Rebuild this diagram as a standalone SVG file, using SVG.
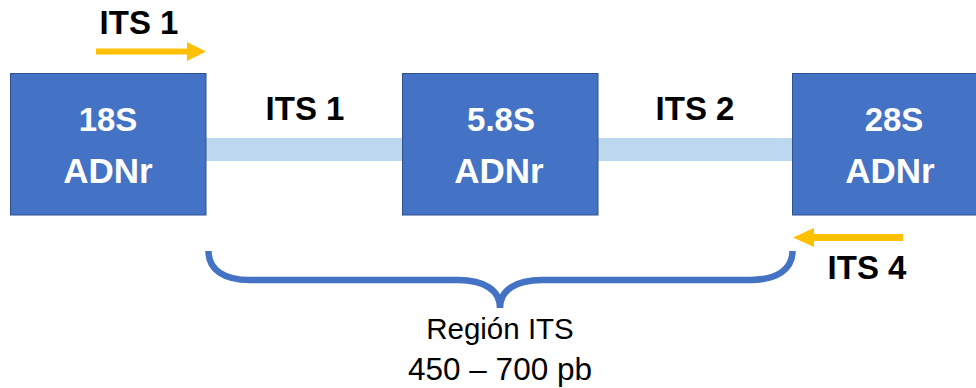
<svg xmlns="http://www.w3.org/2000/svg" width="976" height="388" viewBox="0 0 976 388">
  <style>
    .box { fill: #4472C4; stroke: #2F528F; stroke-width: 1; }
    .bar { fill: #BDD7EE; }
    .btxt { fill: #FFFFFF; font-family: "Liberation Sans", Arial, sans-serif; font-weight: bold; text-anchor: middle; }
    .lbl { fill: #000000; font-family: "Liberation Sans", Arial, sans-serif; font-weight: bold; font-size: 33px; text-anchor: middle; }
    .note { fill: #000000; font-family: "Liberation Sans", Arial, sans-serif; text-anchor: middle; }
    .arrow { fill: #FFC000; }
    .brace { fill: none; stroke: #4472C4; stroke-width: 6.5; stroke-linecap: butt; }
  </style>

  <!-- spacer segments between the rRNA genes -->
  <g id="connectors">
    <rect id="its1-bar" class="bar" x="206" y="138" width="196" height="23"/>
    <rect id="its2-bar" class="bar" x="598" y="138" width="194" height="23"/>
  </g>

  <g id="node-18s">
    <rect class="box" x="10.5" y="73.5" width="195.5" height="141.5"/>
    <text class="btxt" x="108" y="131" font-size="33">18S</text>
    <text class="btxt" x="108" y="183" font-size="35">ADNr</text>
  </g>

  <g id="node-58s">
    <rect class="box" x="402.5" y="73.5" width="195.5" height="141.5"/>
    <text class="btxt" x="501" y="131" font-size="33">5.8S</text>
    <text class="btxt" x="499" y="183" font-size="35">ADNr</text>
  </g>

  <g id="node-28s">
    <rect class="box" x="792.5" y="73.5" width="200" height="141.5"/>
    <text class="btxt" x="894" y="131" font-size="33">28S</text>
    <text class="btxt" x="890" y="183" font-size="35">ADNr</text>
  </g>

  <!-- spacer labels -->
  <g id="label-its1">
    <text class="lbl" x="305" y="120">ITS 1</text>
  </g>
  <g id="label-its2">
    <text class="lbl" x="695" y="120">ITS 2</text>
  </g>

  <!-- forward primer ITS 1 -->
  <g id="primer-its1">
    <text class="lbl" x="139" y="34">ITS 1</text>
    <path class="arrow" d="M96,48.5 H187 V42 L206,51.5 L187,61 V54.5 H96 Z"/>
  </g>

  <!-- reverse primer ITS 4 -->
  <g id="primer-its4">
    <path class="arrow" d="M903,234 H814 V228 L793,237.5 L814,247 V241 H903 Z"/>
    <text class="lbl" x="867" y="279">ITS 4</text>
  </g>

  <!-- bracket spanning the ITS region -->
  <g id="its-region">
    <path class="brace" d="M208.5,251 C208.5,270 224,280 250,280 L458,280 C484,280 500,290 500,308 C500,290 516,280 542,280 L750,280 C776,280 792.5,270 792.5,251"/>
    <text class="note" x="500" y="339" font-size="29.5">Región ITS</text>
    <text class="note" x="500" y="380" font-size="31.5">450 – 700 pb</text>
  </g>
</svg>
